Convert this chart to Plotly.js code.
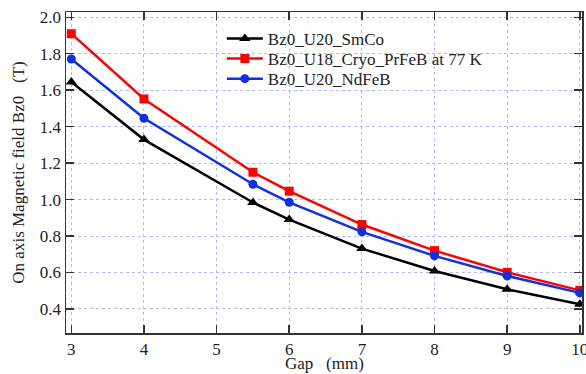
<!DOCTYPE html>
<html><head><meta charset="utf-8">
<script src="https://cdn.plot.ly/plotly-3.0.1.min.js"></script>
<style>body{margin:0;padding:0;background:#fff}#chart{width:586px;height:374px}</style>
</head><body><div id="chart"></div>
<script>
const gap = [3, 4, 5.5, 6, 7, 8, 9, 10];
const smco = [1.645, 1.329, 0.984, 0.890, 0.731, 0.608, 0.508, 0.426];
const prfeb = [1.910, 1.552, 1.150, 1.046, 0.863, 0.720, 0.601, 0.502];
const ndfeb = [1.771, 1.446, 1.084, 0.985, 0.823, 0.691, 0.581, 0.488];
const names = ['Bz0_U20_SmCo', 'Bz0_U18_Cryo_PrFeB at 77 K', 'Bz0_U20_NdFeB'];
const xTicks = [3, 4, 5, 6, 7, 8, 9, 10];
const yTicks = [0.4, 0.6, 0.8, 1.0, 1.2, 1.4, 1.6, 1.8, 2.0];
const xTitle = 'Gap\u00a0\u00a0\u00a0(mm)';
const yTitle = 'On axis Magnetic field Bz0\u00a0\u00a0\u00a0(T)';

const font = {family: 'Times New Roman, Liberation Serif, DejaVu Serif, serif', size: 17, color: '#222'};
const traces = [
  {x: gap, y: smco, name: names[0], legend: 'legend', mode: 'lines+markers', line: {color: '#000', width: 2.5}, marker: {symbol: 'triangle-up', size: 10, color: '#000'}},
  {x: gap, y: prfeb, name: names[1], legend: 'legend2', mode: 'lines+markers', line: {color: '#ff0000', width: 2.5}, marker: {symbol: 'square', size: 9, color: '#ff0000'}},
  {x: gap, y: ndfeb, name: names[2], legend: 'legend3', mode: 'lines+markers', line: {color: '#1030e0', width: 2.5}, marker: {symbol: 'circle', size: 9, color: '#1030e0'}}
];
const axisCommon = {
  showline: true, linecolor: '#333', linewidth: 1.5, mirror: 'ticks',
  ticks: 'inside', ticklen: 8, tickwidth: 1.5, tickcolor: '#333',
  showgrid: true, gridcolor: '#b8b8f0', griddash: 'dot', gridwidth: 1,
  zeroline: false, tickfont: font, ticklabeloverflow: 'allow'
};
const legendBase = {x: 0.302, xanchor: 'left', yanchor: 'middle', itemwidth: 36, bgcolor: 'rgba(255,255,255,0)', font: font};
const layout = {
  width: 586, height: 374,
  margin: {l: 66, r: 4, t: 12, b: 41},
  paper_bgcolor: '#fff', plot_bgcolor: '#fff',
  font: font,
  showlegend: true,
  legend: Object.assign({}, legendBase, {y: 0.916}),
  legend2: Object.assign({}, legendBase, {y: 0.854}),
  legend3: Object.assign({}, legendBase, {y: 0.791}),
  xaxis: Object.assign({}, axisCommon, {
    range: [2.927, 10.03], tickvals: xTicks, ticktext: xTicks.map(String)
  }),
  yaxis: Object.assign({}, axisCommon, {
    range: [0.268, 2.029], tickvals: yTicks, ticktext: yTicks.map(v => v.toFixed(1)),
    title: {text: yTitle, font: font, standoff: 11}
  }),
  annotations: [{
    text: xTitle, xref: 'paper', yref: 'paper', x: 0.5, y: 0,
    xanchor: 'center', yanchor: 'middle', yshift: -30.5, showarrow: false, font: font
  }]
};
Plotly.newPlot('chart', traces, layout, {staticPlot: true, displayModeBar: false});
</script></body></html>
